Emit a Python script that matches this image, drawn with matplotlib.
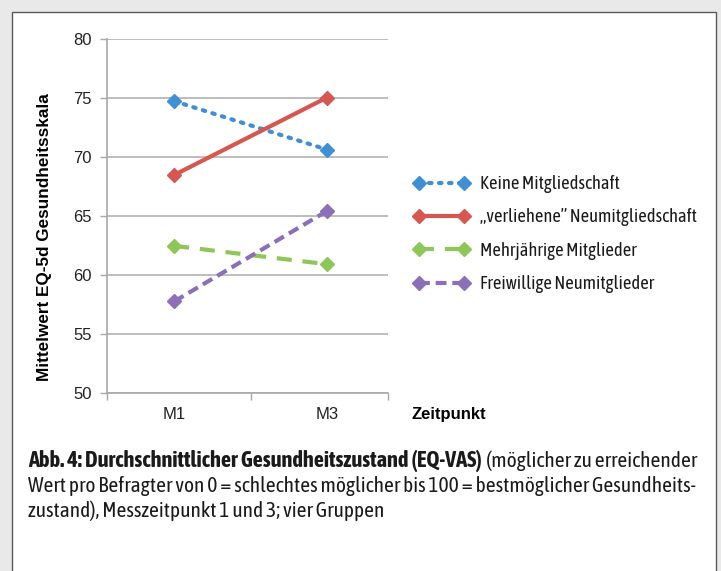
import matplotlib
matplotlib.use("Agg")
import matplotlib.pyplot as plt
from matplotlib.patches import Rectangle
from matplotlib import font_manager

# data
zeitpunkte = ["M1", "M3"]
gruppen = [
    "Keine Mitgliedschaft",
    "\u201everliehene\u201d Neumitgliedschaft",
    "Mehrj\u00e4hrige Mitglieder",
    "Freiwillige Neumitglieder",
]
keine = [74.7, 70.6]
verliehene = [68.45, 75.0]
mehrjaehrige = [62.45, 60.9]
freiwillige = [57.75, 65.4]
y_ticks = [50, 55, 60, 65, 70, 75, 80]

werte = [keine, verliehene, mehrjaehrige, freiwillige]
farben = ["#3f8fd4", "#d65650", "#8ec657", "#8b70b9"]
stile = [(0, (0.6, 1.8)), "-", (0, (3.6, 2.6)), (0, (2.6, 1.4))]
kappen = ["round", "butt", "butt", "butt"]

# condensed font for legend and caption (Myriad Condensed look-alike)
namen = {f.name for f in font_manager.fontManager.ttflist}
schmal = "DejaVu Sans"
for kandidat in ["Asap Condensed", "Fira Sans Condensed", "PT Sans Narrow",
                 "Roboto Condensed", "Archivo Narrow"]:
    if kandidat in namen:
        schmal = kandidat
        break
arial = "Liberation Sans" if "Liberation Sans" in namen else "DejaVu Sans"

fig = plt.figure(figsize=(7.21, 5.71), dpi=100)
fig.patch.set_facecolor("#e8e9e8")
fig.add_artist(Rectangle((12 / 721, -0.05), 704 / 721, 1.05 - 12 / 571,
                         transform=fig.transFigure, facecolor="white",
                         edgecolor="#5a5a5a", linewidth=1.0, zorder=0))

ax = fig.add_axes([107 / 721, 1 - 393 / 571, 281 / 721, (393 - 38.5) / 571])
ax.set_zorder(1)
ax.set_facecolor("white")

x = [0, 1]
linien = []
for w, c, s, k, name in zip(werte, farben, stile, kappen, gruppen):
    (l,) = ax.plot(x, w, color=c, linestyle=s, linewidth=3.0, marker="D",
                   markersize=7.5, markeredgecolor=c, dash_capstyle=k,
                   solid_capstyle="butt", label=name, zorder=3)
    linien.append(l)

ax.set_ylim(50, 80)
ax.set_yticks(y_ticks)
ax.set_xlim(-0.44, 1.40)
ax.set_xticks([-0.44, 0.5, 1.40])
ax.set_xticklabels([])
ax.tick_params(axis="x", length=5, color="#a8a8a8", width=1)
ax.tick_params(axis="y", length=5, color="#a8a8a8", width=1, pad=6,
               labelsize=12, labelcolor="#222222")
for lab in ax.get_yticklabels():
    lab.set_fontfamily(arial)
for i, z in enumerate(zeitpunkte):
    ax.text(i, -0.06, z, transform=ax.get_xaxis_transform(), ha="center",
            va="center", fontsize=12, color="#222222", family=arial)

ax.grid(axis="y", color="#b2b2b2", linewidth=1.2)
ax.set_axisbelow(True)
for sp in ["top", "right"]:
    ax.spines[sp].set_visible(False)
for sp in ["left", "bottom"]:
    ax.spines[sp].set_color("#a8a8a8")
    ax.spines[sp].set_linewidth(1.2)

ax.set_ylabel("Mittelwert EQ-5d Gesundheitsskala", fontsize=12.3,
              fontweight="bold", family=arial)
ax.yaxis.set_label_coords(-0.195, 0.44)
fig.text(411 / 721, 1 - 415 / 571, "Zeitpunkt", fontsize=12, fontweight="bold",
         family=arial, va="center", ha="left")

fig.legend(handles=linien, loc="upper left", numpoints=2,
           bbox_to_anchor=(413 / 721, 1 - 175 / 571), frameon=False,
           prop={"family": schmal, "size": 13.3}, handlelength=3.08,
           labelspacing=0.83, handletextpad=0.54, borderpad=0,
           borderaxespad=0, labelcolor="#1a1a1a")

# caption
fett = 16.1
normal = 15.4
t1 = fig.text(28 / 721, 1 - 467 / 571,
              "Abb. 4: Durchschnittlicher Gesundheitszustand (EQ-VAS)",
              fontsize=fett, fontweight="bold", family=schmal,
              color="#1a1a1a", va="baseline", ha="left")
fig.canvas.draw()
bb = t1.get_window_extent()
fig.text((bb.x1 + 4) / fig.bbox.width, 1 - 467 / 571,
         "(m\u00f6glicher zu erreichender",
         fontsize=normal, family=schmal, color="#1a1a1a", va="baseline",
         ha="left")
fig.text(28 / 721, 1 - 492.5 / 571,
         "Wert pro Befragter von 0 = schlechtes m\u00f6glicher bis 100 = "
         "bestm\u00f6glicher Gesundheits-",
         fontsize=normal, family=schmal, color="#1a1a1a", va="baseline",
         ha="left")
fig.text(28 / 721, 1 - 517 / 571,
         "zustand), Messzeitpunkt 1 und 3; vier Gruppen",
         fontsize=normal, family=schmal, color="#1a1a1a", va="baseline",
         ha="left")

fig.savefig("out.png", dpi=100, facecolor=fig.get_facecolor())
